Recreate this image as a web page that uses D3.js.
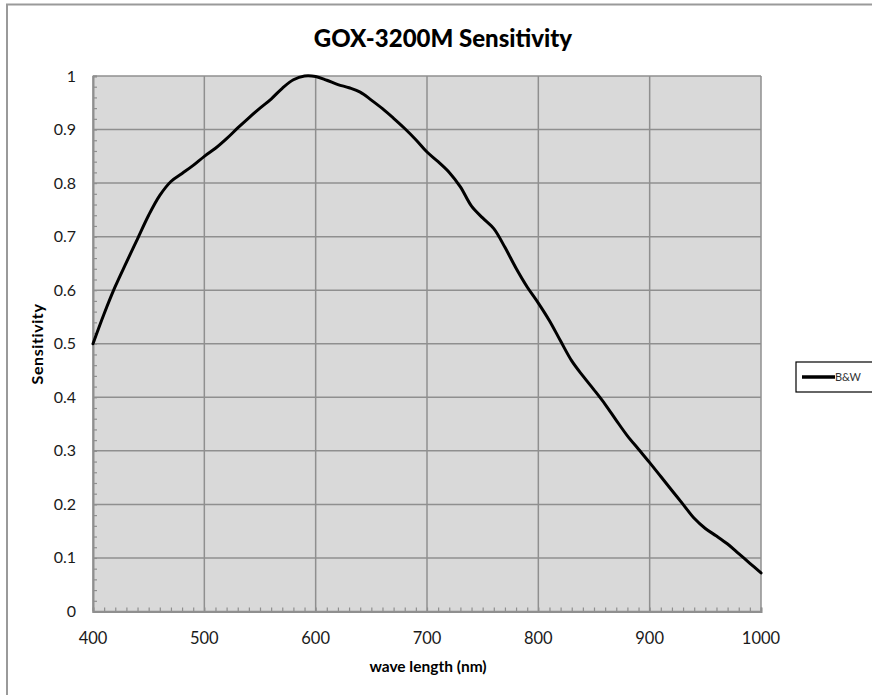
<!DOCTYPE html>
<html>
<head>
<meta charset="utf-8">
<script src="https://cdn.jsdelivr.net/npm/d3@7"></script>
<style>
  html, body { margin: 0; padding: 0; background: #fff; }
  svg { display: block; }
</style>
</head>
<body>
<svg id="chart" width="872" height="695"></svg>
<script>
// Spectral response of the monochrome sensor, sampled every 10 nm
const wavelengths = [400,410,420,430,440,450,460,470,480,490,
  500,510,520,530,540,550,560,570,580,590,
  600,610,620,630,640,650,660,670,680,690,
  700,710,720,730,740,750,760,770,780,790,
  800,810,820,830,840,850,860,870,880,890,
  900,910,920,930,940,950,960,970,980,990,1000];
const sensitivity = [0.500,0.556,0.607,0.652,0.696,0.740,0.777,0.803,0.818,0.833,
  0.850,0.865,0.883,0.903,0.922,0.940,0.957,0.977,0.993,1.000,
  0.999,0.992,0.984,0.978,0.970,0.955,0.939,0.921,0.902,0.881,
  0.858,0.840,0.820,0.793,0.757,0.735,0.715,0.680,0.641,0.606,
  0.576,0.543,0.505,0.468,0.440,0.414,0.387,0.357,0.328,0.303,
  0.278,0.252,0.226,0.200,0.174,0.155,0.141,0.126,0.108,0.090,0.072];
const xTicks = [400,500,600,700,800,900,1000];
const yTicks = [0,0.1,0.2,0.3,0.4,0.5,0.6,0.7,0.8,0.9,1];
const seriesName = "B&W";
const titleText = "GOX-3200M Sensitivity";
const xTitle = "wave length (nm)";
const yTitle = "Sensitivity";

const svg = d3.select("#chart");
const plot = { left: 93, right: 761, top: 76, bottom: 611.5 };

const x = d3.scaleLinear().domain([400, 1000]).range([plot.left, plot.right]);
const y = d3.scaleLinear().domain([0, 1]).range([plot.bottom, plot.top]);

const gridColor = "#8f8f8f";
const textColor = "#1a1a1a";
const font = "Lato, 'Open Sans', sans-serif";

// outer chart frame
svg.append("path")
  .attr("d", "M7,700 L7,4.5 L880,4.5")
  .attr("fill", "none").attr("stroke", "#9a9a9a").attr("stroke-width", 2);

// plot background
svg.append("rect")
  .attr("x", plot.left).attr("y", plot.top)
  .attr("width", plot.right - plot.left).attr("height", plot.bottom - plot.top)
  .attr("fill", "#d9d9d9");

// gridlines
svg.append("g").selectAll("line").data(yTicks).join("line")
  .attr("x1", plot.left).attr("x2", plot.right)
  .attr("y1", d => y(d)).attr("y2", d => y(d))
  .attr("stroke", gridColor).attr("stroke-width", 1.5);
svg.append("g").selectAll("line").data(xTicks).join("line")
  .attr("y1", plot.top).attr("y2", plot.bottom)
  .attr("x1", d => x(d)).attr("x2", d => x(d))
  .attr("stroke", gridColor).attr("stroke-width", 1.5);

// minor tick marks, pointing into the plot
const xMinor = d3.range(400, 1001, 10);
const yMinor = d3.range(0, 1.0001, 0.02);
const xAxis = d3.axisBottom(x).tickValues(xMinor).tickSize(-4).tickFormat("");
const yAxis = d3.axisLeft(y).tickValues(yMinor).tickSize(-4).tickFormat("");
const gx = svg.append("g").attr("transform", `translate(0,${plot.bottom})`).call(xAxis);
const gy = svg.append("g").attr("transform", `translate(${plot.left},0)`).call(yAxis);
[gx, gy].forEach(g => {
  g.select(".domain").attr("stroke", gridColor).attr("stroke-width", 2);
  g.selectAll(".tick line").attr("stroke", gridColor).attr("stroke-width", 1.2);
});

// tick labels
svg.append("g").selectAll("text").data(xTicks).join("text")
  .attr("x", d => x(d)).attr("y", 644)
  .attr("text-anchor", "middle")
  .attr("font-family", font).attr("font-size", 16.5).attr("fill", textColor)
  .text(d => d);
svg.append("g").selectAll("text").data(yTicks).join("text")
  .attr("x", 76).attr("y", d => y(d) + 5.5)
  .attr("text-anchor", "end")
  .attr("font-family", font).attr("font-size", 16).attr("fill", textColor)
  .text(d => d);

// sensitivity curve
const line = d3.line()
  .x((d, i) => x(wavelengths[i]))
  .y(d => y(d))
  .curve(d3.curveCatmullRom.alpha(0.5));
svg.append("path")
  .datum(sensitivity)
  .attr("d", line)
  .attr("fill", "none").attr("stroke", "#000").attr("stroke-width", 3)
  .attr("stroke-linejoin", "round").attr("stroke-linecap", "round");

// titles
svg.append("text")
  .attr("x", 443).attr("y", 47)
  .attr("text-anchor", "middle")
  .attr("font-family", font).attr("font-weight", "900").attr("font-size", 24)
  .attr("fill", "#000").text(titleText);
svg.append("text")
  .attr("x", 428).attr("y", 672)
  .attr("text-anchor", "middle")
  .attr("font-family", font).attr("font-weight", "bold").attr("font-size", 15.5)
  .attr("fill", "#000").text(xTitle);
svg.append("text")
  .attr("transform", "translate(43,344) rotate(-90)")
  .attr("text-anchor", "middle")
  .attr("font-family", font).attr("font-weight", "bold").attr("font-size", 16)
  .attr("letter-spacing", 0.6)
  .attr("fill", "#000").text(yTitle);

// legend
const lg = svg.append("g");
lg.append("rect")
  .attr("x", 796).attr("y", 362).attr("width", 100).attr("height", 30)
  .attr("fill", "#fff").attr("stroke", "#000").attr("stroke-width", 1.2);
lg.append("line")
  .attr("x1", 802).attr("x2", 835).attr("y1", 377).attr("y2", 377)
  .attr("stroke", "#000").attr("stroke-width", 3.5);
lg.append("text")
  .attr("x", 835).attr("y", 381)
  .attr("font-family", font).attr("font-size", 11).attr("fill", "#333")
  .text(seriesName);
</script>
</body>
</html>
